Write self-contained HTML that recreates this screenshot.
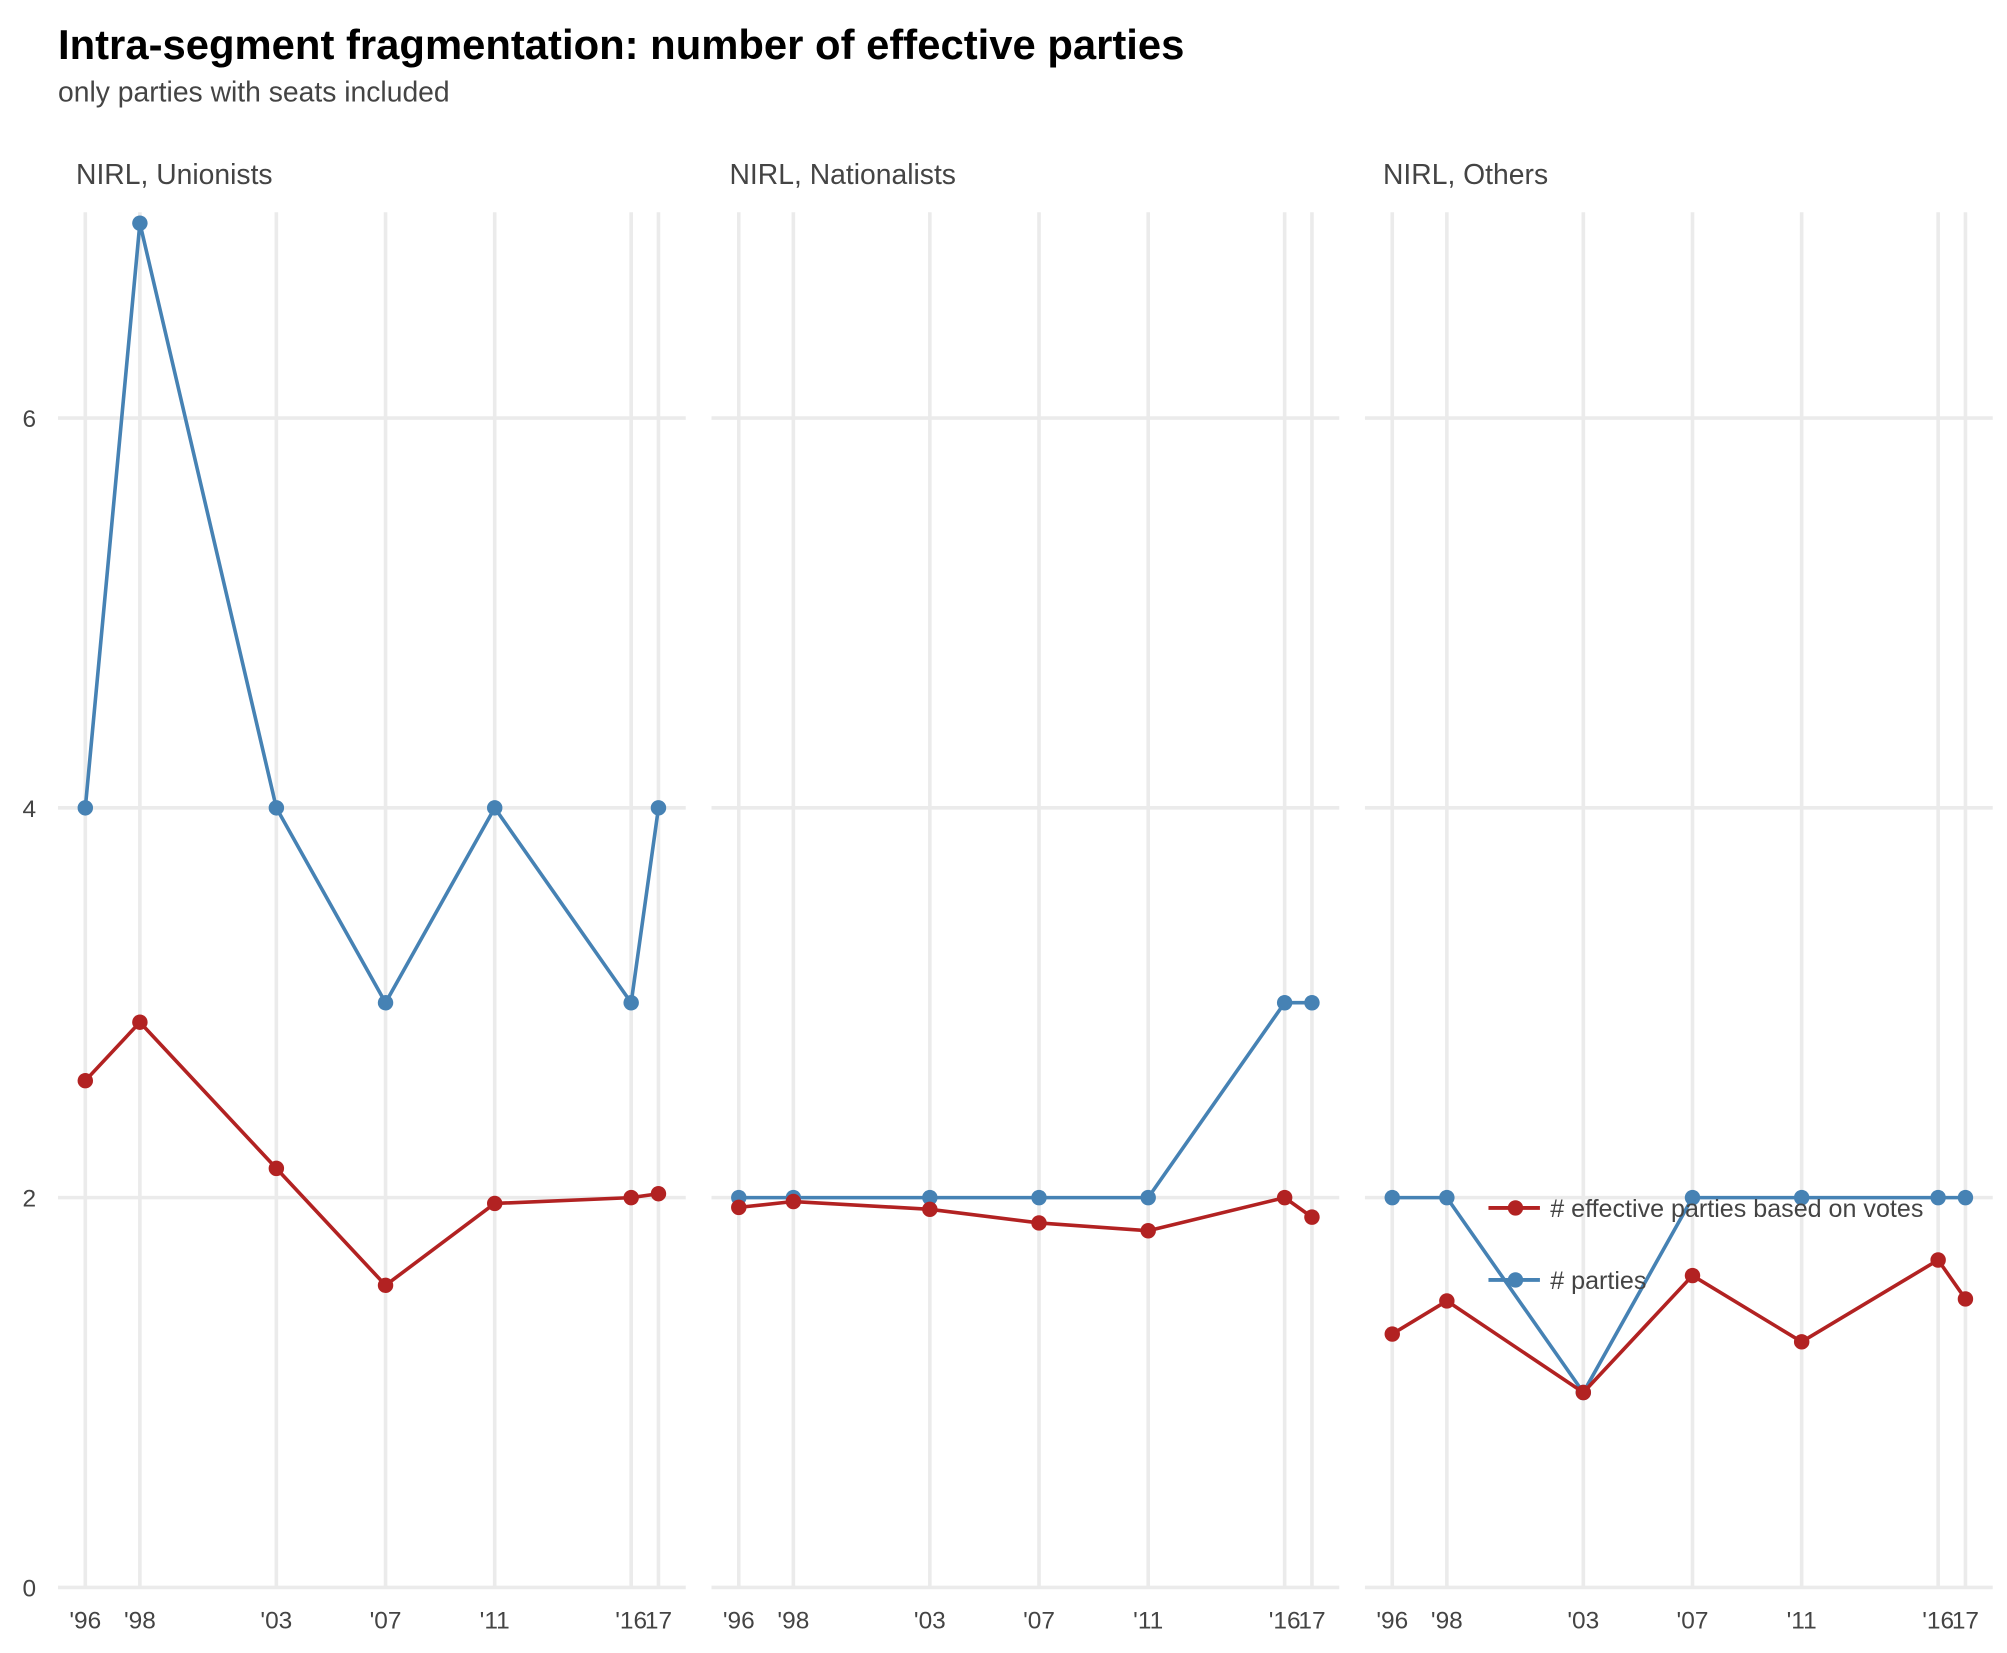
<!DOCTYPE html>
<html><head><meta charset="utf-8"><style>
html,body{margin:0;padding:0;background:#fff;}
svg{display:block;font-family:"Liberation Sans",Arial,sans-serif;}
</style></head><body>
<svg id="chart" width="2007" height="1653" viewBox="0 0 1560 1285" xmlns="http://www.w3.org/2000/svg">
<rect width="1560" height="1285" fill="#fff"/>
<text x="45" y="46" font-size="32.5" font-weight="bold" fill="#000">Intra-segment fragmentation: number of effective parties</text>
<text x="45" y="79" font-size="22" fill="#444">only parties with seats included</text>
<g id="grid"></g><g id="marks"></g><g id="labels"></g>
<g id="legend">
<line x1="1157" y1="939" x2="1197" y2="939" stroke="#B22222" stroke-width="3"/>
<circle cx="1178" cy="939" r="6" fill="#B22222"/>
<text x="1205" y="946" font-size="19.5" fill="#444">#&#160;effective parties based on votes</text>
<line x1="1157" y1="995" x2="1197" y2="995" stroke="#4682B4" stroke-width="3"/>
<circle cx="1178" cy="995" r="6" fill="#4682B4"/>
<text x="1205" y="1002" font-size="19.5" fill="#444">#&#160;parties</text>
</g>
</svg>
<script>
const years=[1996,1998,2003,2007,2011,2016,2017];
const yearLabels=["'96","'98","'03","'07","'11","'16","17"];
const panels=["NIRL, Unionists","NIRL, Nationalists","NIRL, Others"];
const partiesUnionists=[4,7,4,3,4,3,4];
const partiesNationalists=[2,2,2,2,2,3,3];
const partiesOthers=[2,2,1,2,2,2,2];
const votesUnionists=[2.6,2.9,2.15,1.55,1.97,2.0,2.02];
const votesNationalists=[1.95,1.98,1.94,1.87,1.83,2.0,1.9];
const votesOthers=[1.3,1.47,1.0,1.6,1.26,1.68,1.48];
const yTicks=[0,2,4,6];

const NS="http://www.w3.org/2000/svg";
const panelW=488, panelGap=508, panelX0=45, yTop=165, yBot=1234;
function xs(p,yr){return panelX0+p*panelGap+(yr-1995)/(2018-1995)*panelW;}
function ys(v){return 1234-v*151.5;}
function mk(tag,attrs,parent){const e=document.createElementNS(NS,tag);for(const k in attrs)e.setAttribute(k,attrs[k]);parent.appendChild(e);return e;}
const grid=document.getElementById('grid'),marks=document.getElementById('marks'),labels=document.getElementById('labels');
const partiesAll=[partiesUnionists,partiesNationalists,partiesOthers];
const votesAll=[votesUnionists,votesNationalists,votesOthers];
panels.forEach((name,p)=>{
  const x0=panelX0+p*panelGap;
  const t=mk('text',{x:x0+14,y:143,'font-size':22,fill:'#444'},labels);t.textContent=name;
  
  
  yTicks.forEach(v=>{
    const l=mk('line',{x1:x0,x2:x0+panelW,y1:ys(v),y2:ys(v),stroke:'#ebebeb','stroke-width':2.8},grid);
    
    
  });
  years.forEach((yr,i)=>{
    const l=mk('line',{x1:xs(p,yr),x2:xs(p,yr),y1:yTop,y2:yBot,stroke:'#ebebeb','stroke-width':2.8},grid);
    
    
    const tx=mk('text',{x:xs(p,yr),y:1266,'font-size':19,fill:'#444','text-anchor':'middle'},labels);
    tx.textContent=yearLabels[i];
    
    
  });
  [[partiesAll[p],'#4682B4','parties'],[votesAll[p],'#B22222','votes']].forEach(([vals,col,nm])=>{
    const pts=vals.map((v,i)=>xs(p,years[i])+','+ys(v)).join(' ');
    const pl=mk('polyline',{points:pts,fill:'none',stroke:col,'stroke-width':2.8,'stroke-linejoin':'round'},marks);
    
    
    vals.forEach((v,i)=>{
      const c=mk('circle',{cx:xs(p,years[i]),cy:ys(v),r:6,fill:col},marks);
      
      
    });
  });
});
yTicks.forEach(v=>{
  const t=mk('text',{x:28,y:ys(v)+7,'font-size':19,fill:'#444','text-anchor':'end'},labels);
  t.textContent=v;
  
  
});
</script>
</body></html>
